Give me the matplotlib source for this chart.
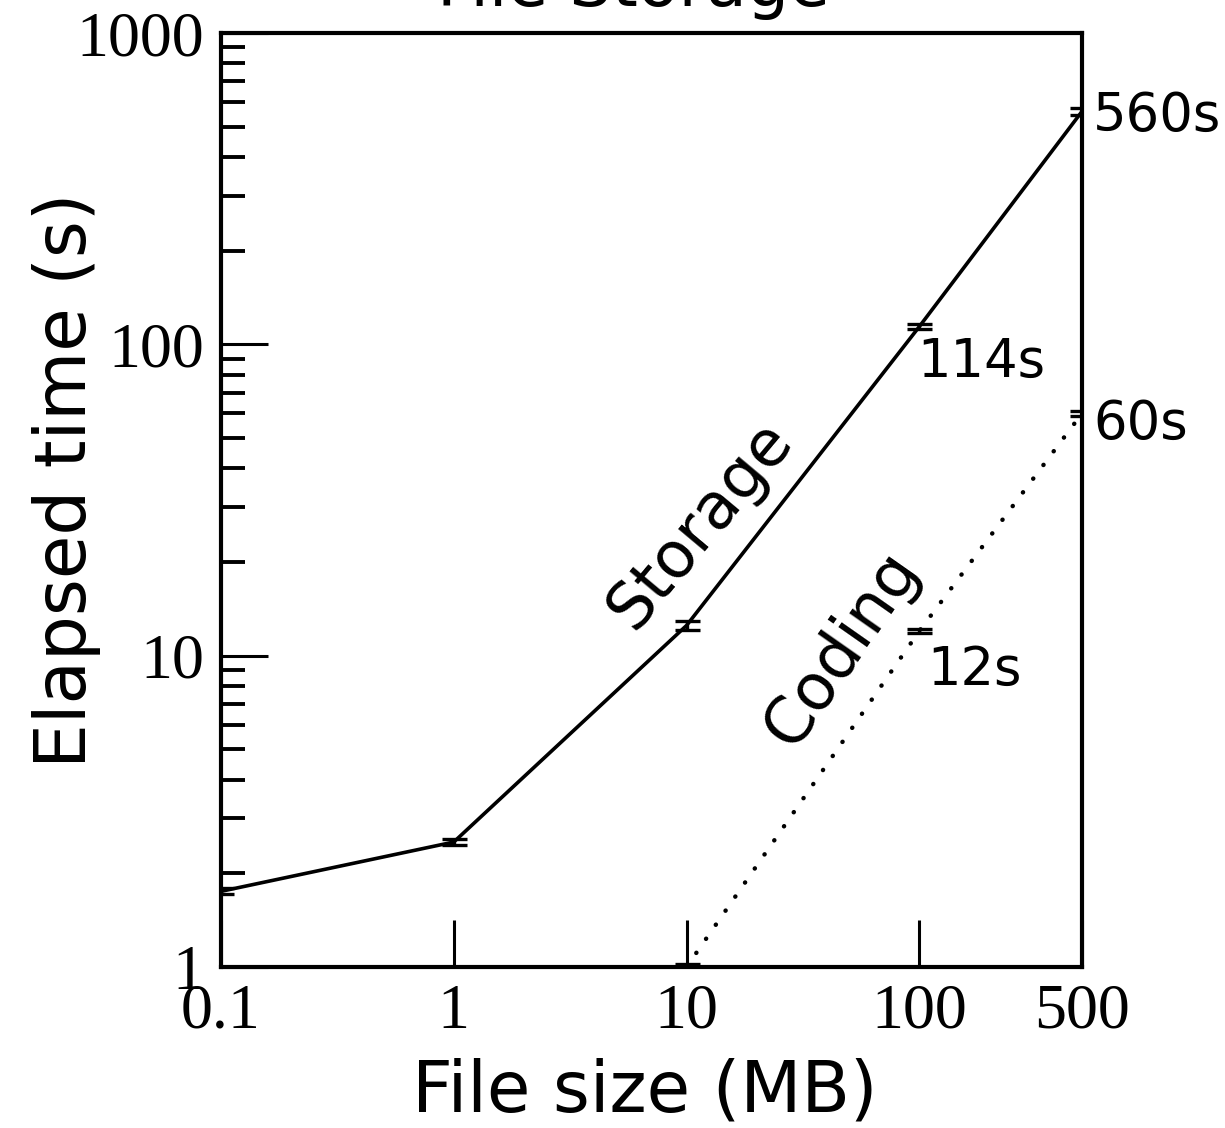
"""
File storage timing: elapsed time vs file size (log-log)
"""

import matplotlib
matplotlib.use("Agg")
import matplotlib.pyplot as plt
from matplotlib.ticker import FixedLocator, LogLocator, NullLocator

# ── Data ─────────────────────────────────────────────────────────────────
sizes_storage = [0.1, 1, 10, 100, 500]
time_storage  = [1.75, 2.52, 12.5, 114, 560]
err_storage   = [0.04, 0.06, 0.4, 2.0, 15]

sizes_coding = [10, 100, 500]
time_coding  = [1.0, 12, 60]
err_coding   = [0.02, 0.2, 1.0]

xtick_vals   = [0.1, 1, 10, 100, 500]
xtick_labels = ["0.1", "1", "10", "100", "500"]
ytick_vals   = [1, 10, 100, 1000]
ytick_labels = ["1", "10", "100", "1000"]

# annotations: (text, x, y, offset in pixels)
labels_storage = [("560s", 500, 560, (11, -5)), ("114s", 100, 114, (-2, -35))]
labels_coding  = [("60s", 500, 60, (11, -11)), ("12s", 100, 12, (8, -39))]

SERIF = "Liberation Serif"
SANS  = "DejaVu Sans"

fig = plt.figure(figsize=(12.25, 11.28), dpi=100)
ax = fig.add_axes([221 / 1225, 1 - 967 / 1128, 861 / 1225, 934 / 1128])

ax.errorbar(sizes_storage, time_storage, yerr=err_storage, color="black",
            lw=2.6, capsize=9, capthick=2.4, elinewidth=2.4)
eb = ax.errorbar(sizes_coding, time_coding, yerr=err_coding, color="black",
                 lw=3.2, capsize=9, capthick=2.4, elinewidth=2.4)
eb.lines[0].set_dashes((0.05, 3.8))
eb.lines[0].set_dash_capstyle("round")

ax.set_xscale("log")
ax.set_yscale("log")
ax.set_xlim(0.1, 500)
ax.set_ylim(1, 1000)

ax.xaxis.set_major_locator(FixedLocator(xtick_vals))
ax.xaxis.set_minor_locator(NullLocator())
ax.set_xticklabels(xtick_labels)
ax.yaxis.set_major_locator(FixedLocator(ytick_vals))
ax.yaxis.set_minor_locator(LogLocator(base=10, subs=range(2, 10)))
ax.set_yticklabels(ytick_labels)

ax.tick_params(which="major", direction="in", length=34, width=2.2, pad=12,
               labelsize=46)
ax.tick_params(which="minor", direction="in", length=17, width=2.8)
for lbl in ax.get_xticklabels() + ax.get_yticklabels():
    lbl.set_fontfamily(SERIF)

for sp in ax.spines.values():
    sp.set_linewidth(3)

ax.set_xlabel("File size (MB)", fontsize=51, family=SANS)
ax.set_ylabel("Elapsed time (s)", fontsize=51, family=SANS)
ax.xaxis.set_label_coords(0.4925, -0.097)
ax.yaxis.set_label_coords(-0.139, 0.521)

for txt, x, y, off in labels_storage + labels_coding:
    ax.annotate(txt, xy=(x, y), xytext=off, textcoords="offset pixels",
                fontsize=38, family=SANS, ha="left", va="center",
                annotation_clip=False)

ax.text(11.4, 26.4, "Storage", fontsize=46, family=SANS, rotation=50,
        ha="center", va="center", rotation_mode="anchor")
ax.text(46.5, 10.5, "Coding", fontsize=46, family=SANS, rotation=55,
        ha="center", va="center", rotation_mode="anchor")

fig.text(633 / 1225, 1 - 6 / 1128, "File Storage", fontsize=48, family=SANS,
         ha="center", va="baseline")

fig.savefig("out.png", dpi=100)
